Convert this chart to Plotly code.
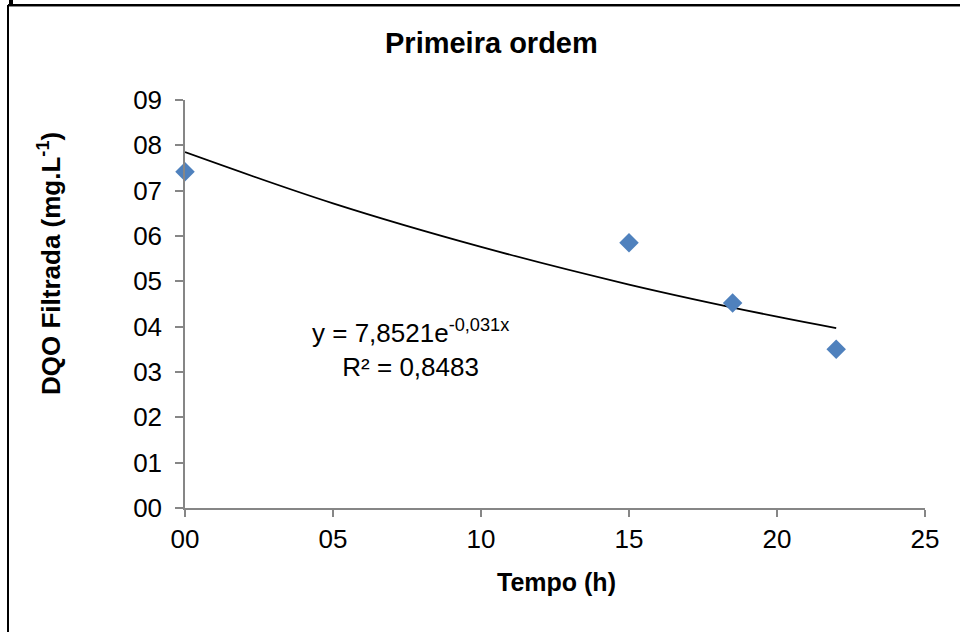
import plotly.graph_objects as go

# Observed data
tempo = [0, 15, 18.5, 22]
dqo = [7.42, 5.85, 4.52, 3.50]

# Trendline values
trend_x = [0, 5, 10, 15, 20, 22]
trend_y = [7.85, 6.72, 5.76, 4.93, 4.22, 3.97]

x_ticks = [0, 5, 10, 15, 20, 25]
x_ticktext = ["00", "05", "10", "15", "20", "25"]
y_ticks = [0, 1, 2, 3, 4, 5, 6, 7, 8, 9]
y_ticktext = ["00", "01", "02", "03", "04", "05", "06", "07", "08", "09"]

FONT = "Arial, Liberation Sans, sans-serif"
AXIS_COLOR = "#868686"

fig = go.Figure()
fig.add_trace(go.Scatter(x=trend_x, y=trend_y, mode="lines", line=dict(color="black", width=1.8, shape="spline"),
                         hoverinfo="skip", showlegend=False))
fig.add_trace(go.Scatter(x=tempo, y=dqo, mode="markers", cliponaxis=False,
                         marker=dict(symbol="diamond", size=15, color="#4F81BD", line=dict(width=0)),
                         showlegend=False))

L, R, T, B = 185, 35, 100, 124
W, H = 960, 632
pw, ph = W - L - R, H - T - B

def px(xp):
    return (xp - L) / pw

def py(yp):
    return (H - B - yp) / ph

fig.update_layout(
    width=W, height=H,
    margin=dict(l=L, r=R, t=T, b=B),
    paper_bgcolor="white", plot_bgcolor="white",
    font=dict(family=FONT, color="black"),
    xaxis=dict(range=[0, 25], tickvals=x_ticks, ticktext=x_ticktext, showgrid=False, zeroline=False,
               showline=True, linecolor=AXIS_COLOR, linewidth=1.5, ticks="outside", ticklen=7,
               tickcolor=AXIS_COLOR, tickwidth=1.5, tickfont=dict(size=26, family=FONT, color="black"),
               ticklabelstandoff=0),
    yaxis=dict(range=[0, 9], tickvals=y_ticks, ticktext=y_ticktext, showgrid=False, zeroline=False,
               showline=True, linecolor=AXIS_COLOR, linewidth=1.5, ticks="outside", ticklen=8,
               tickcolor=AXIS_COLOR, tickwidth=1.5, tickfont=dict(size=26, family=FONT, color="black"),
               ticklabelstandoff=8),
    annotations=[
        dict(x=px(491), y=py(43), xref="paper", yref="paper", text="<b>Primeira ordem</b>", showarrow=False,
             font=dict(size=29, family=FONT, color="black"), xanchor="center", yanchor="middle"),
        dict(x=px(556), y=py(582), xref="paper", yref="paper", text="<b>Tempo (h)</b>", showarrow=False,
             font=dict(size=25, family=FONT, color="black"), xanchor="center", yanchor="middle"),
        dict(x=px(49), y=py(264), xref="paper", yref="paper", text="<b>DQO Filtrada (mg.L<sup>-1</sup>)</b>",
             showarrow=False, textangle=-90,
             font=dict(size=26, family=FONT, color="black"), xanchor="center", yanchor="middle"),
        dict(x=px(410), y=py(348), xref="paper", yref="paper",
             text="y = 7,8521e<sup>-0,031x</sup><br>R² = 0,8483", showarrow=False,
             font=dict(size=26, family=FONT, color="black"), align="center", xanchor="center", yanchor="middle"),
    ],
    shapes=[
        dict(type="line", xref="paper", yref="paper", x0=px(8), x1=px(8), y0=py(5), y1=py(640),
             line=dict(color="black", width=2)),
        dict(type="line", xref="paper", yref="paper", x0=px(8), x1=px(970), y0=py(5), y1=py(5),
             line=dict(color="black", width=2)),
        dict(type="line", xref="paper", yref="paper", x0=px(9), x1=px(970), y0=py(6.5), y1=py(6.5),
             line=dict(color="#888888", width=1)),
        dict(type="rect", xref="paper", yref="paper", x0=px(9), x1=px(13), y0=py(0), y1=py(4),
             line=dict(width=0), fillcolor="black"),
    ],
)

fig.write_html("out.html")
